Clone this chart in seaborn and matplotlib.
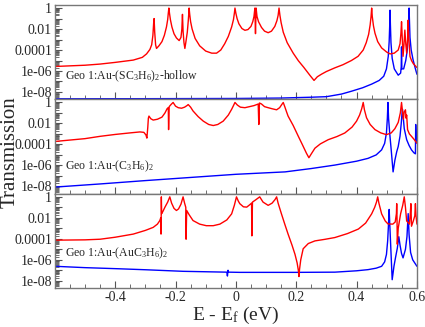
import numpy as np
import pandas as pd
import matplotlib
matplotlib.use("Agg")
import matplotlib.pyplot as plt
import matplotlib.ticker as mticker
import seaborn as sns

# values: energy (eV) and log10(transmission)
p1_red_x = [-0.6, -0.5, -0.45, -0.4, -0.34, -0.31, -0.296, -0.285, -0.279, -0.275, -0.272,
            -0.271, -0.269, -0.266, -0.263, -0.255, -0.245, -0.237, -0.23, -0.226, -0.224,
            -0.222, -0.22, -0.217, -0.212, -0.205, -0.197, -0.188, -0.182, -0.179, -0.177,
            -0.175, -0.172, -0.169, -0.166, -0.161, -0.158, -0.156, -0.155, -0.153, -0.15,
            -0.145, -0.135, -0.12, -0.1, -0.08, -0.064, -0.05, -0.037, -0.025, -0.014,
            -0.008, -0.005, -0.003, 0.0, 0.004, 0.01, 0.02, 0.03, 0.04, 0.05, 0.056, 0.06,
            0.063, 0.065, 0.067, 0.07, 0.075, 0.085, 0.095, 0.107, 0.118, 0.129, 0.136, 0.14,
            0.143, 0.146, 0.15, 0.157, 0.17, 0.19, 0.207, 0.225, 0.245, 0.259, 0.27, 0.284,
            0.3, 0.328, 0.355, 0.383, 0.405, 0.422, 0.432, 0.44, 0.445, 0.448, 0.45, 0.452,
            0.456, 0.461, 0.47, 0.483, 0.5, 0.511, 0.525, 0.538, 0.544, 0.547, 0.549, 0.551,
            0.554, 0.557, 0.56, 0.563, 0.566, 0.569, 0.571, 0.573, 0.577, 0.582, 0.588, 0.6]
p1_red_logT = [-5.57, -5.45, -5.34, -5.18, -4.96, -4.7, -4.37, -3.95, -3.5, -2.6, -1.2,
               -1.0, -2.3, -3.5, -3.85, -3.6, -3.2, -2.6, -1.8, -1.1, -0.5,
               0.0, -0.5, -1.1, -1.8, -2.45, -2.85, -3.1, -2.8, -2.0, -0.6,
               -2.2, -3.3, -3.85, -3.3, -2.3, -1.3, -0.5, 0.0, -0.6, -1.3,
               -2.0, -2.9, -3.6, -4.1, -4.3, -4.3, -4.0, -3.4, -2.7, -1.8,
               -1.1, -0.5, 0.0, -0.5, -1.0, -1.5, -1.95, -2.12, -2.05, -1.75, -1.3, -0.8,
               0.0, -2.44, 0.0, -0.8, -1.3, -1.85, -2.2, -2.35, -2.2, -1.75, -1.2, -0.7,
               0.0, -0.7, -1.4, -2.3, -3.3, -4.3, -5.02, -5.65, -6.4, -6.9, -6.55, -6.3,
               -6.05, -5.7, -5.4, -5.0, -4.6, -4.0, -3.3, -2.5, -1.6, -0.8, 0.0, -0.8,
               -1.7, -2.4, -3.2, -3.8, -4.2, -4.37, -4.3, -4.0, -3.4, -2.4, -1.3, -2.6,
               -4.6, -3.5, -2.1, -3.4, -4.3, -3.0, -1.15, -2.8, -4.6, -5.0, -5.3, -5.67]
p1_blue_x = [-0.6, -0.3, 0.0, 0.15, 0.25, 0.3, 0.35, 0.383, 0.42, 0.45, 0.475, 0.49, 0.499,
             0.505, 0.508, 0.51, 0.511, 0.512, 0.514, 0.518, 0.525, 0.538, 0.546, 0.548,
             0.549, 0.55, 0.556, 0.563, 0.568, 0.571, 0.573, 0.574, 0.575, 0.577, 0.581,
             0.587, 0.595, 0.6]
p1_blue_logT = [-8.65, -8.64, -8.62, -8.58, -8.5, -8.45, -8.2, -7.93, -7.6, -7.25, -6.9, -6.5,
                -5.8, -4.6, -3.2, -1.5, -0.2, -1.5, -3.3, -4.8, -5.8, -6.4, -6.2, -5.6,
                -3.7, -5.8, -5.8, -5.0, -4.0, -2.6, -1.0, 0.0, -1.0, -2.8, -4.0,
                -4.9, -5.8, -6.31]

p2_red_x = [-0.6, -0.5, -0.45, -0.4, -0.35, -0.318, -0.305, -0.298, -0.295, -0.292, -0.29,
            -0.288, -0.282, -0.274, -0.26, -0.245, -0.235, -0.228, -0.224, -0.223, -0.221,
            -0.215, -0.208, -0.2, -0.191, -0.18, -0.17, -0.162, -0.158, -0.15, -0.142,
            -0.125, -0.108, -0.09, -0.075, -0.06, -0.042, -0.025, -0.014, -0.008, -0.003,
            0.005, 0.015, 0.03, 0.045, 0.06, 0.074, 0.076, 0.078, 0.085, 0.095, 0.107, 0.12,
            0.135, 0.145, 0.152, 0.157, 0.162, 0.168, 0.173, 0.19, 0.207, 0.22, 0.234,
            0.242, 0.25, 0.262, 0.28, 0.306, 0.335, 0.361, 0.385, 0.4, 0.41, 0.417, 0.422,
            0.426, 0.433, 0.445, 0.461, 0.48, 0.499, 0.515, 0.527, 0.538, 0.545, 0.549,
            0.552, 0.555, 0.558, 0.562, 0.564, 0.566, 0.569, 0.575, 0.582, 0.59, 0.6]
p2_red_logT = [-3.72, -3.45, -3.23, -3.05, -2.9, -2.81, -2.85, -3.1, -3.4, -2.4, -1.5,
               -1.3, -1.55, -1.68, -1.6, -1.4, -1.0, -0.6, -0.5, -2.59, -0.4,
               -0.2, 0.0, -0.35, -0.5, -0.55, -0.45, -0.3, -0.2, -0.45, -0.81,
               -1.35, -1.78, -2.1, -2.2, -2.1, -1.78, -1.2, -0.65, -0.3, 0.0,
               -0.25, -0.45, -0.5, -0.4, -0.3, -0.15, -2.1, -0.05, -0.15, -0.4, -0.5, -0.6,
               -0.7, -0.5, -0.2, 0.0, -0.4, -0.9, -1.3, -2.2, -3.23, -4.0, -4.85,
               -5.27, -4.9, -4.36, -3.95, -3.55, -3.25, -2.91, -2.35, -1.78, -1.2, -0.6, 0.0,
               -0.7, -1.46, -2.1, -2.59, -2.9, -3.07, -2.9, -2.5, -1.9, -1.0, 0.0,
               -0.8, -1.6, -0.9, -0.7, -1.5, -1.2, -2.59, -3.0, -3.23, -3.5, -3.88]
p2_blue_x = [-0.6, -0.45, -0.3, -0.15, 0.0, 0.163, 0.25, 0.328, 0.4, 0.438, 0.465, 0.483,
             0.493, 0.499, 0.502, 0.504, 0.506, 0.51, 0.515, 0.521, 0.527, 0.533, 0.538,
             0.544, 0.548, 0.551, 0.552, 0.554, 0.558, 0.566, 0.574, 0.582, 0.59, 0.595,
             0.596, 0.597, 0.6]
p2_blue_logT = [-8.07, -7.77, -7.45, -7.15, -6.85, -6.62, -6.3, -5.97, -5.6, -5.33, -5.0, -4.52,
                -3.9, -2.91, -1.5, 0.0, -1.5, -3.0, -4.6, -6.62, -5.5, -4.7, -4.2,
                -3.2, -2.0, -0.9, -0.65, -1.2, -2.5, -3.55, -4.1, -4.52, -4.8, -4.9,
                -2.1, -3.0, -3.88]

p3_red_x = [-0.6, -0.5, -0.45, -0.4, -0.34, -0.3, -0.274, -0.26, -0.252, -0.249, -0.248,
            -0.247, -0.246, -0.242, -0.235, -0.226, -0.219, -0.213, -0.205, -0.197, -0.19,
            -0.182, -0.175, -0.17, -0.166, -0.165, -0.163, -0.155, -0.142, -0.12, -0.098,
            -0.075, -0.053, -0.03, -0.014, -0.005, 0.002, 0.008, 0.013, 0.025, 0.036, 0.046,
            0.052, 0.053, 0.055, 0.065, 0.079, 0.09, 0.107, 0.12, 0.13, 0.135, 0.14, 0.151,
            0.162, 0.173, 0.186, 0.196, 0.203, 0.207, 0.209, 0.211, 0.215, 0.223, 0.24,
            0.262, 0.295, 0.328, 0.37, 0.406, 0.43, 0.45, 0.46, 0.466, 0.47, 0.474, 0.483,
            0.495, 0.504, 0.52, 0.528, 0.532, 0.533, 0.534, 0.535, 0.538, 0.546, 0.553,
            0.558, 0.562, 0.566, 0.575, 0.578, 0.58, 0.582, 0.588, 0.593, 0.595, 0.597, 0.6]
p3_red_logT = [-4.13, -4.1, -4.04, -3.85, -3.55, -3.2, -2.91, -2.6, -2.26, -2.0, -3.55,
               0.0, -1.6, -1.4, -0.98, -0.5, 0.0, -0.6, -1.1, -1.3, -1.15,
               -0.7, 0.0, -0.6, -1.0, -4.04, -1.3, -1.7, -2.26, -2.6, -2.75,
               -2.75, -2.6, -2.2, -1.62, -0.8, 0.0, -0.4, -0.65, -0.95, -0.98, -0.75,
               -0.6, -3.72, -0.5, -0.3, 0.0, -0.5, -0.81, -0.6, -0.25, 0.0, -0.6, -1.62,
               -2.6, -3.55, -4.6, -5.49, -6.3, -7.0, -7.6, -6.9, -6.0, -4.95, -4.45,
               -4.2, -4.05, -3.88, -3.5, -3.07, -2.5, -1.62, -1.0, -0.5, 0.0, -0.6, -1.62,
               -2.3, -2.58, -2.6, -2.4, -1.6, -0.65, -2.0, -4.52, -3.0, -1.6, -0.8,
               0.0, -1.0, -2.3, -2.6, -1.6, -0.65, -2.8, -2.3, -1.8, -0.65, -1.8, -2.6]
p3_blue_x = [-0.6, -0.5, -0.395, -0.3, -0.175, -0.03, -0.028, -0.026, -0.024, 0.013, 0.2,
             0.328, 0.4, 0.438, 0.465, 0.483, 0.493, 0.499, 0.503, 0.506, 0.508, 0.51, 0.513,
             0.518, 0.524, 0.529, 0.535, 0.54, 0.544, 0.549, 0.554, 0.562, 0.567, 0.571,
             0.574, 0.579, 0.586, 0.6]
p3_blue_logT = [-6.62, -6.75, -6.85, -6.95, -7.1, -7.18, -7.55, -7.0, -7.18, -7.2, -7.2,
                -7.18, -7.05, -6.94, -6.8, -6.62, -6.2, -5.49, -4.2, -2.5, -1.2, -2.6, -4.6,
                -7.9, -6.6, -5.8, -4.9, -3.8, -4.6, -5.4, -5.82, -5.0, -3.8, -1.6,
                -3.6, -5.3, -6.0, -6.62]

panel_labels = [r"Geo 1:Au-(SC$_3$H$_6$)$_2$-hollow",
                r"Geo 1:Au-(C$_3$H$_6$)$_2$",
                r"Geo 1:Au-(AuC$_3$H$_6$)$_2$"]
label_y = [0.24, 0.29, 0.365]

panels = [(p1_red_x, p1_red_logT, p1_blue_x, p1_blue_logT),
          (p2_red_x, p2_red_logT, p2_blue_x, p2_blue_logT),
          (p3_red_x, p3_red_logT, p3_blue_x, p3_blue_logT)]

sns.set_style("ticks")
plt.rcParams['font.family'] = ['Liberation Serif', 'DejaVu Serif']
plt.rcParams['mathtext.fontset'] = 'custom'
plt.rcParams['mathtext.rm'] = 'Liberation Serif'
plt.rcParams['mathtext.it'] = 'Liberation Serif:italic'

fig, axes = plt.subplots(3, 1, sharex=True, figsize=(4.25, 3.27), dpi=100)
fig.subplots_adjust(left=0.129, right=0.981, top=0.985, bottom=0.119, hspace=0)

ylabels = {0: '1', -2: '0.01', -4: '0.0001', -6: '1e-06', -8: '1e-08'}

for ax, (rx, ry, bx, by), lab, ly in zip(axes, panels, panel_labels, label_y):
    red = pd.DataFrame({'E': rx, 'T': 10.0 ** np.array(ry)})
    blue = pd.DataFrame({'E': bx, 'T': 10.0 ** np.array(by)})
    sns.lineplot(data=blue, x='E', y='T', ax=ax, color='#0000ff', lw=1.0,
                 sort=False, estimator=None)
    sns.lineplot(data=red, x='E', y='T', ax=ax, color='#ff0000', lw=1.0,
                 sort=False, estimator=None)
    ax.set_yscale('log')
    ax.set_ylim(2e-9, 2)
    ax.set_xlim(-0.6, 0.6)
    ax.set_xlabel('')
    ax.set_ylabel('')
    ax.yaxis.set_major_locator(mticker.FixedLocator([10.0 ** k for k in range(-8, 1)]))
    ax.yaxis.set_major_formatter(mticker.FuncFormatter(
        lambda v, p: ylabels.get(int(round(np.log10(v))), '')))
    ax.yaxis.set_minor_locator(mticker.LogLocator(base=10, subs=np.arange(2, 10), numticks=20))
    ax.yaxis.set_minor_formatter(mticker.NullFormatter())
    ax.xaxis.set_major_locator(mticker.FixedLocator([-0.4, -0.2, 0, 0.2, 0.4, 0.6]))
    ax.xaxis.set_minor_locator(mticker.MultipleLocator(0.05))
    ax.tick_params(which='both', direction='in', top=False, right=False, labelsize=10,
                   color='#555555', pad=2)
    ax.tick_params(which='major', length=5, width=0.8)
    ax.tick_params(which='minor', length=3, width=0.6)
    for sp in ax.spines.values():
        sp.set_color('#777777')
        sp.set_linewidth(1.0)
    ax.text(0.028, ly, lab, transform=ax.transAxes, fontsize=8.5, va='center', ha='left')

axes[-1].xaxis.set_major_formatter(mticker.FuncFormatter(lambda v, p: f"{v:g}"))
axes[-1].set_xlabel(r"E - E$_\mathrm{f}$ (eV)", fontsize=14, labelpad=1)
fig.text(0.024, 0.535, "Transmission", rotation=90, va='center', ha='center', fontsize=15)

fig.savefig("out.png", dpi=100)
